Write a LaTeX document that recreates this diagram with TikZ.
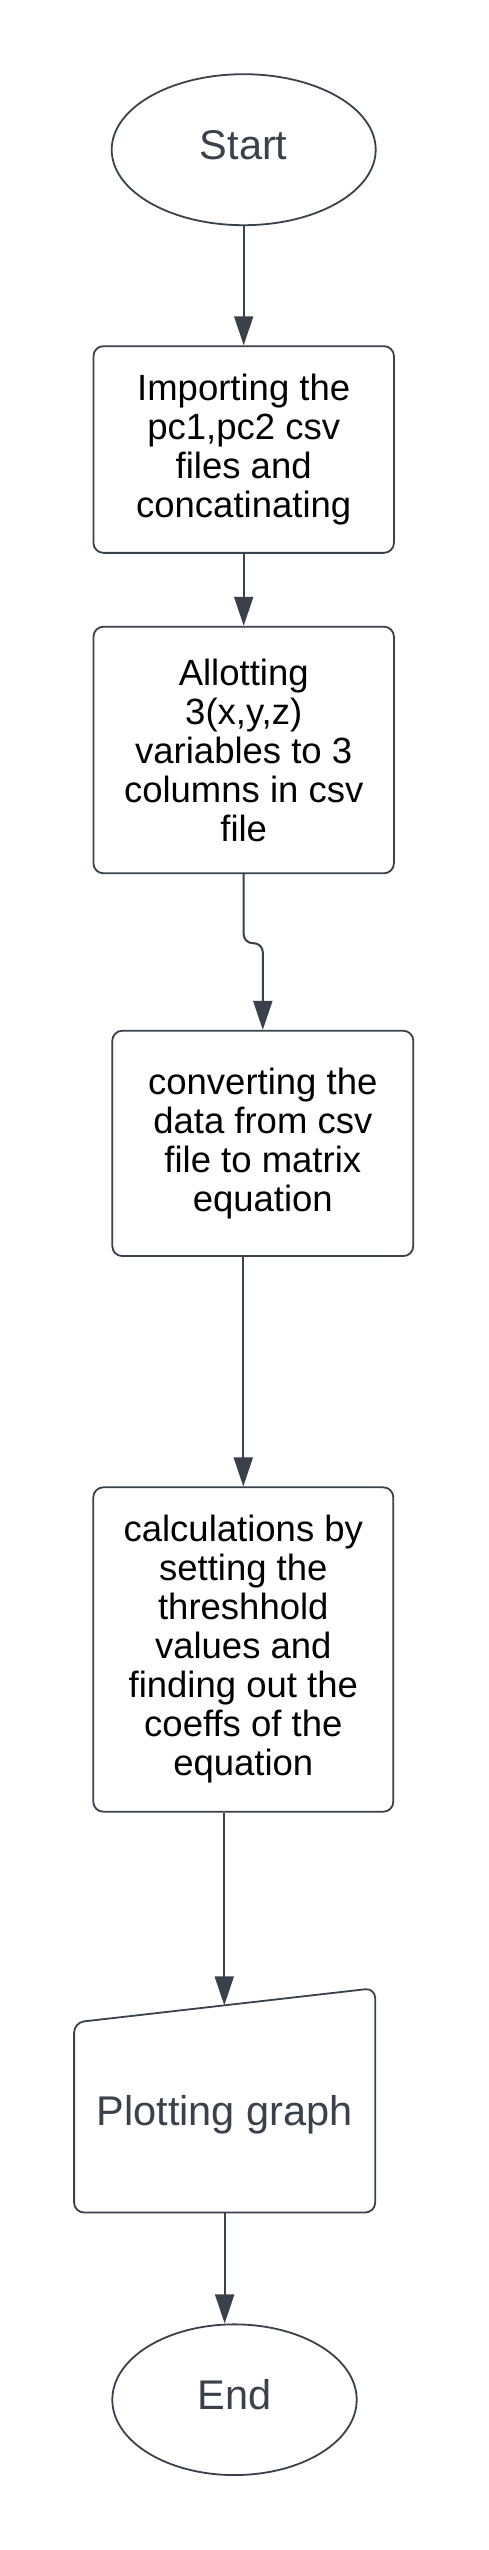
\documentclass[tikz,border=0pt]{standalone}
\usepackage{fontspec}
\setmainfont{Liberation Sans}
\usetikzlibrary{shapes.geometric,arrows.meta,calc}
\definecolor{lc}{HTML}{3A414A}
\tikzset{
  procbox/.style={draw=lc, line width=1.8pt, rounded corners=10pt, fill=white, inner sep=0pt, align=center, text=black, font=\fontsize{36.5}{39}\selectfont},
  term/.style={ellipse, draw=lc, line width=1.8pt, inner sep=0pt, text=lc, font=\fontsize{41.5}{45}\selectfont, text height=29.7pt, text depth=10pt},
  conn/.style={draw=lc, line width=2pt, -{Triangle[length=29pt,width=19pt]}},
  shapeline/.style={draw=lc, line width=1.8pt, rounded corners=10pt},
}
\begin{document}
\begin{tikzpicture}[x=1pt,y=-1pt]
\useasboundingbox (0,0) rectangle (488,2550);
\node[term, minimum width=264pt, minimum height=151pt] (start) at (243.7,149.7) {Start};
\node[procbox, minimum width=300.5pt, minimum height=206.7pt] (box1) at (243.7,449.5) {Importing the\\pc1,pc2 csv\\files and\\concatinating};
\node[procbox, minimum width=300.5pt, minimum height=246.6pt] (box2) at (243.7,750) {Allotting\\3(x,y,z)\\variables to 3\\columns in csv\\file};
\node[procbox, minimum width=301pt, minimum height=225.3pt] (box3) at (262.8,1143.4) {converting the\\data from csv\\file to matrix\\equation};
\node[procbox, minimum width=300pt, minimum height=324.4pt] (box4) at (243.3,1649.5) {calculations by\\setting the\\threshhold\\values and\\finding out the\\coeffs of the\\equation};
\node[inner sep=0pt, minimum width=300.7pt, minimum height=224pt] (plot) at (224.65,2100.3) {};
\draw[shapeline] (plot.west) -- ([yshift=-34.4pt]plot.north west) -- (plot.north east) -- (plot.south east) -- (plot.south west) -- cycle;
\node[anchor=base, inner sep=0pt, text=lc, font=\fontsize{41.5}{45}\selectfont] (plottext) at ([yshift=-25.4pt]plot.center) {Plotting graph};
\coordinate (plottop) at ($([yshift=-34.4pt]plot.north west)!0.4988!(plot.north east)$);
\node[term, minimum width=244.4pt, minimum height=150.7pt] (end) at (234.5,2399.7) {End};
\draw[conn] (start.south) -- (box1.north);
\draw[conn] (box1.south) -- (box2.north);
\draw[conn, rounded corners=9pt] (box2.south) -- ++(0,69) -| (box3.north);
\draw[conn] (box3.south -| box4.north) -- (box4.north);
\draw[conn] (box4.south -| plottop) -- (plottop);
\draw[conn] (plot.south) -- (plot.south |- end.north);
\end{tikzpicture}
\end{document}
